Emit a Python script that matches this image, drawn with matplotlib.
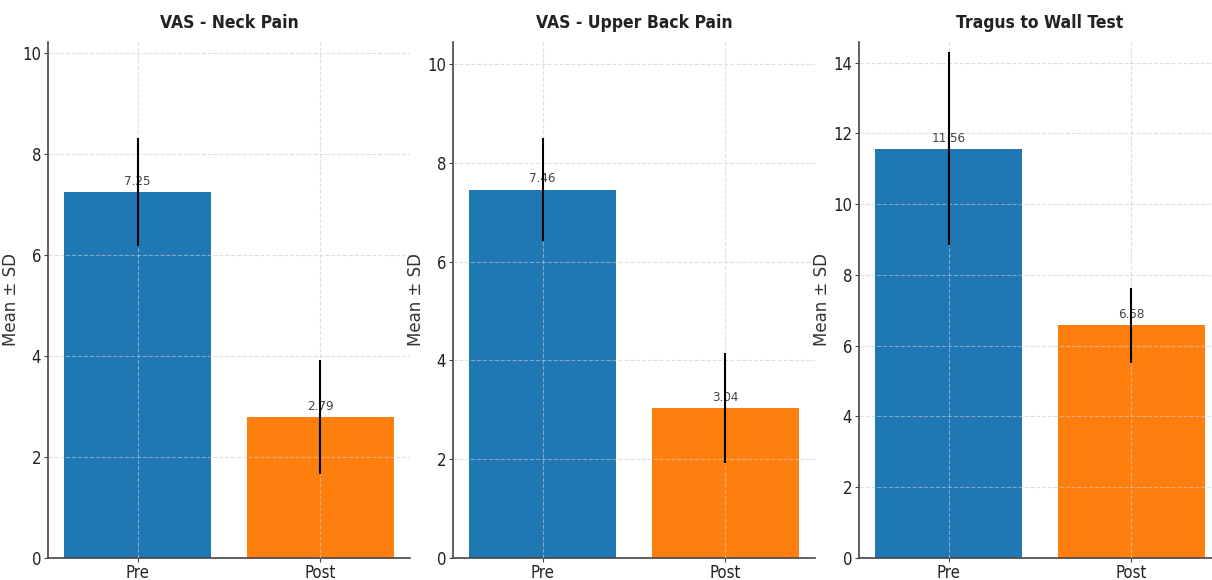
import matplotlib
matplotlib.use("Agg")
import matplotlib.pyplot as plt

# Data
groups = ["Pre", "Post"]
titles = ["VAS - Neck Pain", "VAS - Upper Back Pain", "Tragus to Wall Test"]
neck_mean = [7.25, 2.79]
neck_sd = [1.07, 1.13]
upper_mean = [7.46, 3.04]
upper_sd = [1.04, 1.12]
tragus_mean = [11.56, 6.58]
tragus_sd = [2.73, 1.06]
ytops = [10.22, 10.45, 14.58]
colors = ["#1f77b4", "#ff7f0e"]

plt.rcParams["font.family"] = ["DejaVu Sans"]
plt.rcParams["font.stretch"] = "condensed"

fig = plt.figure(figsize=(12.12, 5.8), dpi=100)
lefts = [48, 453, 859]
axes = [fig.add_axes([l / 1212, 1 - 558 / 580, 362 / 1212, 516 / 580]) for l in lefts]

means = [neck_mean, upper_mean, tragus_mean]
sds = [neck_sd, upper_sd, tragus_sd]

for ax, title, m, s, top in zip(axes, titles, means, sds, ytops):
    bars = ax.bar(groups, m, yerr=s, color=colors, width=0.8,
                  error_kw=dict(ecolor="black", elinewidth=1.5, capsize=0, zorder=4))
    for b, v in zip(bars, m):
        ax.annotate(f"{v:.2f}", (b.get_x() + b.get_width() / 2, v),
                    xytext=(0, 3), textcoords="offset points",
                    ha="center", va="bottom", fontsize=9.5, color="#444444", zorder=3)
    ax.set_ylim(0, top)
    ax.set_title(title, fontsize=12.5, fontweight="bold", color="#222222", pad=10)
    ax.set_ylabel("Mean ± SD", fontsize=12, color="#333333", fontstretch="normal")
    ax.yaxis.set_label_coords(-0.078, 0.5)
    ax.grid(True, linestyle="--", color="#cccccc", linewidth=0.8, alpha=0.6)
    ax.set_axisbelow(False)
    for side in ["top", "right"]:
        ax.spines[side].set_visible(False)
    for side in ["left", "bottom"]:
        ax.spines[side].set_color("#444444")
        ax.spines[side].set_linewidth(1.2)
    ax.tick_params(axis="both", labelsize=12, length=3, color="#444444", labelcolor="#222222")
    ax.tick_params(axis="x", pad=1.5)
    ax.tick_params(axis="y", pad=2)

fig.savefig("out.png", dpi=100)
